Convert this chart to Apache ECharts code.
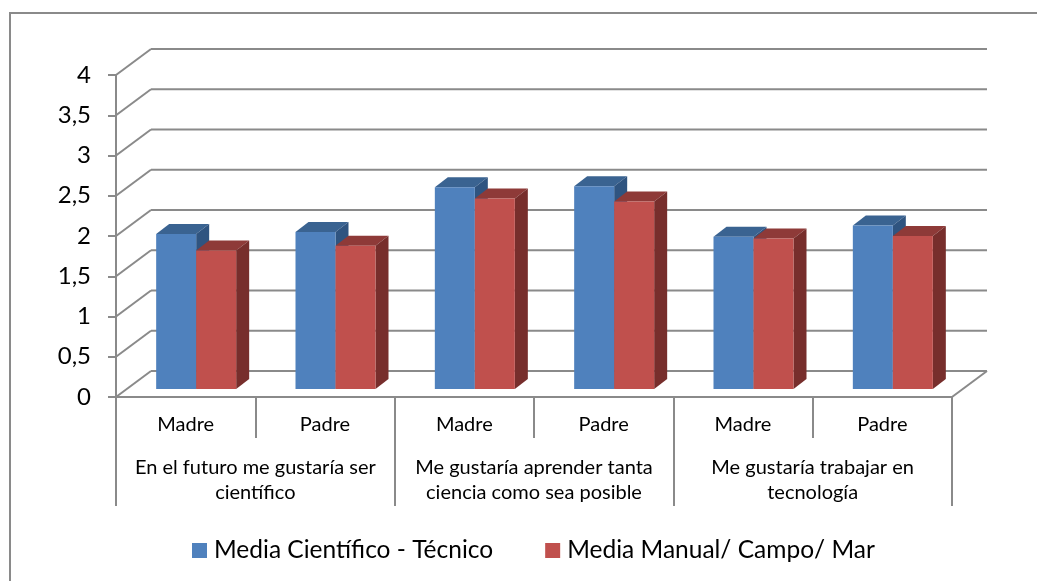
<!DOCTYPE html>
<html><head><meta charset="utf-8">
<style>html,body{margin:0;padding:0;background:#fff}#c{width:1037px;height:581px}</style>
<script src="https://cdn.jsdelivr.net/npm/echarts@6/dist/echarts.min.js"></script>
</head><body><div id="c"></div>
<script>
const subCategories = ['Madre','Padre','Madre','Padre','Madre','Padre'];
const groupCategories = ['En el futuro me gustaría ser\ncientífico','Me gustaría aprender tanta\nciencia como sea posible','Me gustaría trabajar en\ntecnología'];
const seriesNames = ['Media Científico - Técnico','Media Manual/ Campo/ Mar'];
const mediaCientifico = [1.925,1.95,2.505,2.52,1.89,2.03];
const mediaManual = [1.72,1.78,2.365,2.33,1.87,1.90];
const yTicks = [0,0.5,1,1.5,2,2.5,3,3.5,4];
const GRID='#8a8a8a', FONT='Lato, "Open Sans", sans-serif';
const WALL_DX=35, WALL_DY=26, BASE_DX=10.5, BASE_DY=8, DEPTH_DX=13, DEPTH_DY=10, BAR_W=40;

function gridRender(params, api){
  const cs=params.coordSys, v=api.value(0);
  const p=api.coord([0,v]);
  const x0=cs.x, x1=cs.x+cs.width, y=p[1];
  const ls={stroke:GRID,lineWidth:2,fill:null};
  const kids=[
    {type:'line',shape:{x1:x0,y1:y,x2:x0+WALL_DX,y2:y-WALL_DY},style:ls},
    {type:'line',shape:{x1:x0+WALL_DX,y1:y-WALL_DY,x2:x1+WALL_DX,y2:y-WALL_DY},style:ls}
  ];
  if(v===0) kids.push({type:'line',shape:{x1:x1,y1:y,x2:x1+WALL_DX,y2:y-WALL_DY},style:ls});
  return {type:'group',children:kids};
}
function barRender(shift,front,top,side){
  return function(params,api){
    const i=api.value(0),v=api.value(1);
    const t=api.coord([i,v]),b=api.coord([i,0]);
    const xc=b[0]+BASE_DX, x0=xc+shift*BAR_W, x1=x0+BAR_W;
    const yt=t[1]-BASE_DY, yb=b[1]-BASE_DY;
    return {type:'group',children:[
      {type:'polygon',shape:{points:[[x0,yt],[x1,yt],[x1+DEPTH_DX,yt-DEPTH_DY],[x0+DEPTH_DX,yt-DEPTH_DY]]},style:{fill:top}},
      {type:'polygon',shape:{points:[[x1,yt],[x1+DEPTH_DX,yt-DEPTH_DY],[x1+DEPTH_DX,yb-DEPTH_DY],[x1,yb]]},style:{fill:side}},
      {type:'rect',shape:{x:x0,y:yt,width:BAR_W,height:yb-yt},style:{fill:front}}
    ]};
  };
}
const chart=echarts.init(document.getElementById('c'),null,{renderer:'canvas'});
chart.setOption({
  animation:false,backgroundColor:'#fff',
  graphic:[
    {type:'line',silent:true,shape:{x1:9,y1:13,x2:1037,y2:13},style:{stroke:GRID,lineWidth:2},z:-1},
    {type:'line',silent:true,shape:{x1:10,y1:12,x2:10,y2:581},style:{stroke:GRID,lineWidth:2},z:-1}
  ],
  grid:{left:116,right:85,top:75,bottom:184,containLabel:false},
  legend:{left:187,top:533,itemGap:52,itemWidth:15,itemHeight:15,icon:'rect',
    textStyle:{fontFamily:FONT,fontSize:24.5,color:'#000',padding:[0,0,0,2]},
    data:seriesNames},
  xAxis:[
    {type:'category',data:subCategories,position:'bottom',
     axisLine:{lineStyle:{color:GRID,width:2}},
     axisTick:{show:true,length:41,lineStyle:{color:GRID,width:2}},
     axisLabel:{interval:0,fontFamily:FONT,fontSize:20,color:'#000',margin:18}},
    {type:'category',data:groupCategories,position:'bottom',
     axisLine:{show:false},
     axisTick:{show:true,length:109,lineStyle:{color:GRID,width:2}},
     axisLabel:{interval:0,fontFamily:FONT,fontSize:20,color:'#000',margin:58,lineHeight:25}}
  ],
  yAxis:{type:'value',min:0,max:4,interval:0.5,
    axisLine:{show:true,lineStyle:{color:GRID,width:2}},
    axisTick:{show:true,length:8,lineStyle:{color:GRID,width:2}},
    splitLine:{show:false},
    axisLabel:{fontFamily:FONT,fontSize:24,color:'#000',margin:25,padding:[3,0,0,0],formatter:v=>String(v).replace('.',',')}},
  series:[
    {type:'custom',name:'gridlines',silent:true,z:1,data:yTicks.map(v=>[v]),encode:{y:0},renderItem:gridRender},
    {type:'custom',name:seriesNames[0],z:2,itemStyle:{color:'#4F81BD'},
     data:mediaCientifico.map((v,i)=>[i,v]),encode:{x:0,y:1},
     renderItem:barRender(-1,'#4F81BD','#3A6391','#2F5480')},
    {type:'custom',name:seriesNames[1],z:3,itemStyle:{color:'#C0504D'},
     data:mediaManual.map((v,i)=>[i,v]),encode:{x:0,y:1},
     renderItem:barRender(0,'#C0504D','#8E3A38','#772E2C')}
  ]
});
</script></body></html>
